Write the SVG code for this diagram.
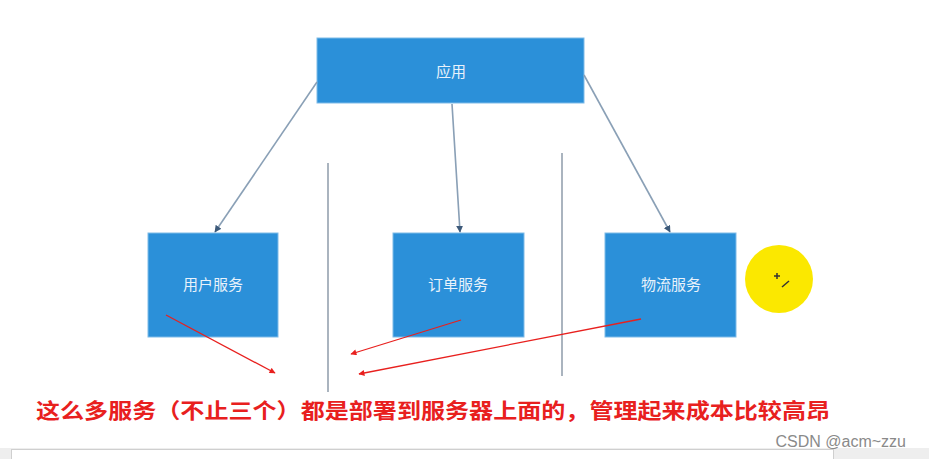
<svg xmlns="http://www.w3.org/2000/svg" width="929" height="459" viewBox="0 0 929 459">
<defs>
<marker id="ah" viewBox="0 0 10 10" refX="9" refY="5" markerWidth="7" markerHeight="7" orient="auto" markerUnits="userSpaceOnUse"><path d="M0,0 L10,5 L0,10 z" fill="#3d5a7a"/></marker>
<marker id="rh" viewBox="0 0 10 10" refX="9" refY="5" markerWidth="8" markerHeight="6" orient="auto" markerUnits="userSpaceOnUse"><path d="M0,0 L10,5 L0,10 z" fill="#e8201e"/></marker>
</defs>
<style>
.box{fill:#2b90d9;stroke:#7fbbe8;stroke-width:1}
.lbl{font-family:"Noto Sans CJK SC","Noto Sans",sans-serif;font-size:15px;fill:#e8f2fb;text-anchor:middle}
.conn{stroke:#8aa0b6;stroke-width:1.6;fill:none}
.red{stroke:#e8201e;stroke-width:1.3;fill:none}
.sep{stroke:#aab4bf;stroke-width:2}
</style>
<rect width="929" height="459" fill="#ffffff"/>
<g id="app"><rect class="box" x="317" y="38" width="267" height="65"/><text class="lbl" x="451" y="77">应用</text></g>
<g id="user"><rect class="box" x="148" y="233" width="130" height="104"/><text class="lbl" x="213" y="290">用户服务</text></g>
<g id="order"><rect class="box" x="393" y="233" width="131" height="104"/><text class="lbl" x="458" y="290">订单服务</text></g>
<g id="logistics"><rect class="box" x="605" y="233" width="131" height="104"/><text class="lbl" x="671" y="290">物流服务</text></g>
<g id="cursor"><circle cx="779" cy="279" r="34" fill="#fbe800"/><path d="M774,276 h6 M777,273 v6" stroke="#333" stroke-width="1.5"/><path d="M782,287 L789,281" stroke="#333" stroke-width="1.5"/></g>
<g id="separators"><line class="sep" x1="328" y1="163" x2="328" y2="392"/><line class="sep" x1="562" y1="153" x2="562" y2="376"/></g>
<g id="connectors">
<line class="conn" x1="317" y1="82" x2="215" y2="232" marker-end="url(#ah)"/>
<line class="conn" x1="452" y1="104" x2="460" y2="232" marker-end="url(#ah)"/>
<line class="conn" x1="584" y1="75" x2="670" y2="232" marker-end="url(#ah)"/>
<line class="red" x1="166" y1="315" x2="275" y2="373" marker-end="url(#rh)"/>
<line class="red" x1="461" y1="320" x2="351" y2="354" marker-end="url(#rh)"/>
<line class="red" x1="641" y1="319" x2="359" y2="374" marker-end="url(#rh)"/>
</g>
<text x="36" y="418" font-family="'Noto Sans CJK SC','Noto Sans',sans-serif" font-size="21" font-weight="bold" fill="#e8201e" textLength="794" lengthAdjust="spacingAndGlyphs">这么多服务（不止三个）都是部署到服务器上面的，管理起来成本比较高昂</text>
<rect x="0" y="448" width="929" height="11" fill="#eeeeee"/>
<rect x="11.5" y="449.5" width="822" height="12" fill="#ffffff" stroke="#cfcfcf"/>
<text x="906" y="447" text-anchor="end" font-family="'Liberation Sans',Arial,sans-serif" font-size="16" fill="#8a8a8a">CSDN @acm~zzu</text>
</svg>
